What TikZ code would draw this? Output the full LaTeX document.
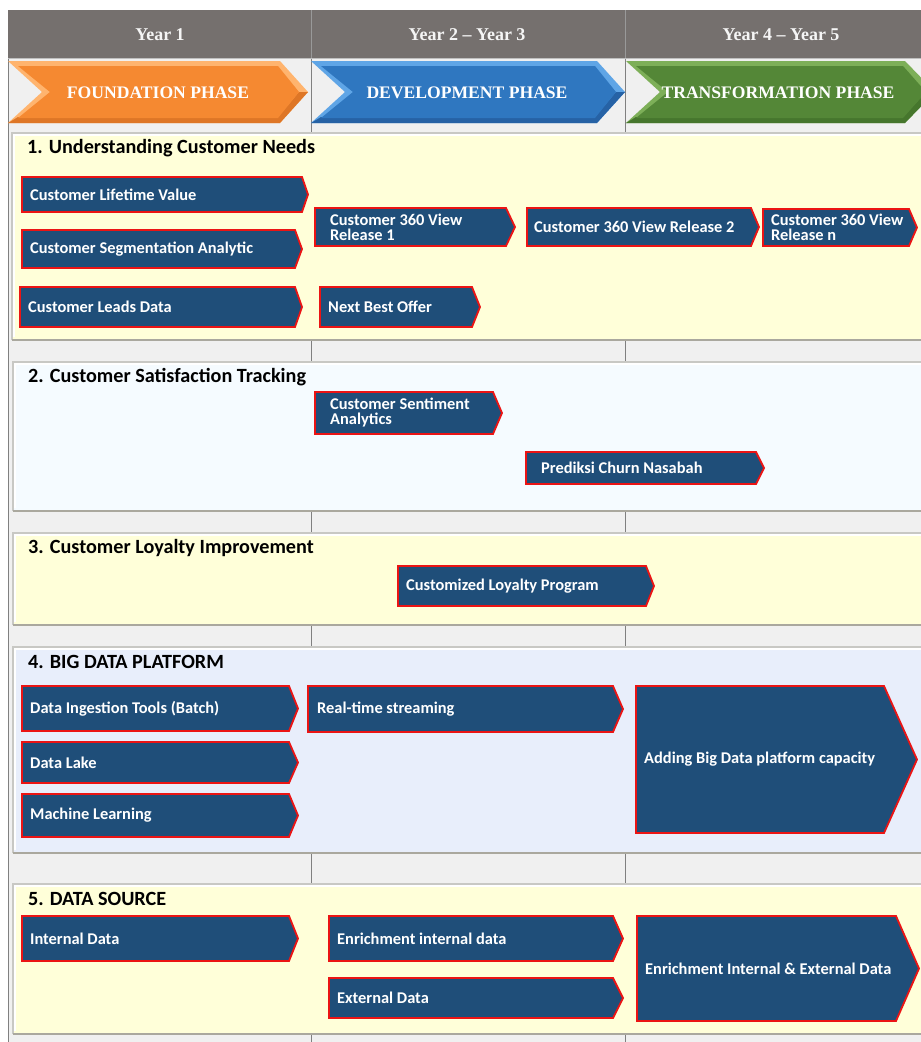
\documentclass[tikz,border=0pt]{standalone}
\usepackage{fontspec}
\setmainfont{Carlito}
\newfontfamily\headserif{Liberation Serif}
\definecolor{pagebg}{RGB}{240,240,240}
\definecolor{headgray}{RGB}{117,112,110}
\definecolor{headtext}{RGB}{245,245,245}
\definecolor{gridline}{RGB}{128,128,128}
\definecolor{boxblue}{RGB}{31,78,121}
\definecolor{boxred}{RGB}{235,20,20}
\definecolor{panelyellow}{RGB}{255,255,217}
\definecolor{panelpale}{RGB}{245,251,255}
\definecolor{panelblue}{RGB}{232,238,251}
\definecolor{panelrim}{RGB}{200,200,196}
\definecolor{panelshadow}{RGB}{170,168,158}
\definecolor{orangemain}{RGB}{245,137,49}
\definecolor{orangelight}{RGB}{255,180,110}
\definecolor{orangedark}{RGB}{222,118,38}
\definecolor{bluemain}{RGB}{47,119,192}
\definecolor{bluelight}{RGB}{95,165,230}
\definecolor{bluedark}{RGB}{38,98,165}
\definecolor{greenmain}{RGB}{84,135,55}
\definecolor{greenlight}{RGB}{125,175,88}
\definecolor{greendark}{RGB}{70,118,45}
\tikzset{
  stepbar/.style={fill=boxblue, draw=boxred, line width=1.8pt, line join=miter},
  steptext/.style={anchor=west, inner sep=0pt, text=white, align=left,
    font=\bfseries\fontsize{16.4}{15}\selectfont},
  paneltitle/.style={anchor=west, inner sep=0pt, text=black,
    font=\bfseries\fontsize{20.2}{22}\selectfont},
  yeartext/.style={inner sep=0pt, text=headtext, font=\headserif\bfseries\fontsize{18}{20}\selectfont},
  phasetext/.style={inner sep=0pt, text=white, font=\headserif\bfseries\fontsize{17.6}{19}\selectfont},
}
% a dark step bar with a pointed right end and its label
% #1 name, #2 left, #3 top, #4 shoulder, #5 tip, #6 bottom, #7 label x, #8 label
\newcommand\stepbarbox[8]{%
  \draw[stepbar] (#2,#3) -- (#4,#3) -- (#5,{(#3+#6)/2}) -- (#4,#6) -- (#2,#6) -- cycle;
  \node[steptext] (#1) at (#7,{(#3+#6)/2}) {#8};
}
% a bevelled phase chevron
% #1 name, #2 left, #3 notch, #4 shoulder, #5 tip, #6 colour stem, #7 centre x, #8 label
\newcommand\phasechevron[8]{%
  \fill[#6light] (#2,61) -- (#4,61) -- (#5,92) -- (#4,123) -- (#2,123) -- (#3,92) -- cycle;
  \fill[#6dark] (#2,123) -- (#2+10,117) -- (#4-2,117) -- (#5-9,92) -- (#5,92) -- (#4,123) -- cycle;
  \fill[#6main] (#2+10,66) -- (#4-2,66) -- (#5-9,92) -- (#4-2,118) -- (#2+10,118) -- (#3+8,92) -- cycle;
  \node[phasetext] (#1) at (#7,93) {#8};
}
% a section panel with its bevelled rim
% #1 name, #2 left, #3 top, #4 bottom, #5 fill, #6 title y, #7 title
\newcommand\sectionpanel[7]{%
  \fill[#5] (#2,#3) rectangle (935,#4);
  \draw[panelrim, line width=1.2pt] (#2,#4) -- (#2,#3) -- (935,#3);
  \draw[white, line width=1.5pt] (#2+2,#4-3) -- (#2+2,#3+2) -- (935,#3+2);
  \draw[panelshadow, line width=2.6pt] (#2,#4) -- (935,#4);
  \node[paneltitle] (#1) at (#2+15,#6) {#7};
}
\begin{document}
\begin{tikzpicture}[x=1pt,y=-1pt]
\useasboundingbox (0,0) rectangle (921,1042);
\clip (0,0) rectangle (921,1042);
\fill[white] (0,0) rectangle (921,1042);
% page body and time grid
\fill[pagebg] (8,10) rectangle (921,1042);
\draw[gridline, line width=1pt] (8,10) -- (8,1042);
\draw[gridline, line width=1pt] (311,58) -- (311,1042);
\draw[gridline, line width=1pt] (625,58) -- (625,1042);
% year header
\fill[headgray] (8,10) rectangle (921,58);
\draw[gray!80, line width=0.8pt] (311,10) -- (311,58);
\draw[gray!80, line width=0.8pt] (625,10) -- (625,58);
\draw[gray!50, line width=0.8pt] (8,58.5) -- (921,58.5);
\node[yeartext] (yr1) at (160,35) {Year 1};
\node[yeartext] (yr23) at (467,35) {Year 2 \textendash{} Year 3};
\node[yeartext] (yr45) at (781,35) {Year 4 \textendash{} Year 5};
% phases
\phasechevron{foundation}{8}{42}{280}{308}{orange}{158}{FOUNDATION PHASE}
\phasechevron{development}{311}{345}{597}{625}{blue}{467}{DEVELOPMENT PHASE}
\phasechevron{transformation}{626}{660}{905}{935}{green}{778}{TRANSFORMATION PHASE}
% 1. Understanding Customer Needs
\sectionpanel{s1}{12}{133}{340}{panelyellow}{148}{1. Understanding Customer Needs}
\stepbarbox{clv}{22}{177}{302}{308}{212}{30}{Customer Lifetime Value}
\stepbarbox{csa}{22}{230}{295}{302}{268}{30}{Customer Segmentation Analytic}
\stepbarbox{cld}{20}{287}{295}{302}{327}{28}{Customer Leads Data}
\stepbarbox{cv1}{315}{208}{506}{515}{246}{330}{Customer 360 View\\Release 1}
\stepbarbox{nbo}{320}{287}{472}{480}{327}{328}{Next Best Offer}
\stepbarbox{cv2}{527}{208}{751}{759}{246}{534}{Customer 360 View Release 2}
\stepbarbox{cvn}{763}{209}{909}{917}{246}{771}{Customer 360 View\\Release n}
% 2. Customer Satisfaction Tracking
\sectionpanel{s2}{13}{362}{511}{panelpale}{377}{2. Customer Satisfaction Tracking}
\stepbarbox{sent}{315}{392}{493}{502}{434}{330}{Customer Sentiment\\Analytics}
\stepbarbox{churn}{526}{452}{756}{764}{484}{541}{Prediksi Churn Nasabah}
% 3. Customer Loyalty Improvement
\sectionpanel{s3}{13}{533}{625}{panelyellow}{548}{3. Customer Loyalty Improvement}
\stepbarbox{loyal}{398}{566}{646}{654}{606}{406}{Customized Loyalty Program}
% 4. Big Data Platform
\sectionpanel{s4}{13}{647}{853}{panelblue}{662}{4. BIG DATA PLATFORM}
\stepbarbox{ingest}{22}{686}{289}{298}{731}{30}{Data Ingestion Tools (Batch)}
\stepbarbox{lake}{22}{742}{289}{298}{783}{30}{Data Lake}
\stepbarbox{ml}{22}{794}{289}{298}{837}{30}{Machine Learning}
\stepbarbox{rts}{308}{686}{613}{623}{732}{317}{Real-time streaming}
\stepbarbox{cap}{636}{686}{884}{917}{833}{644}{Adding Big Data platform capacity}
% 5. Data Source
\sectionpanel{s5}{13}{884}{1034}{panelyellow}{899}{5. DATA SOURCE}
\stepbarbox{intd}{22}{916}{289}{298}{961}{30}{Internal Data}
\stepbarbox{enri}{329}{916}{613}{623}{961}{337}{Enrichment internal data}
\stepbarbox{extd}{329}{978}{613}{623}{1018}{337}{External Data}
\stepbarbox{enrie}{637}{916}{896}{919}{1021}{645}{Enrichment Internal \& External Data}
\end{tikzpicture}
\end{document}
